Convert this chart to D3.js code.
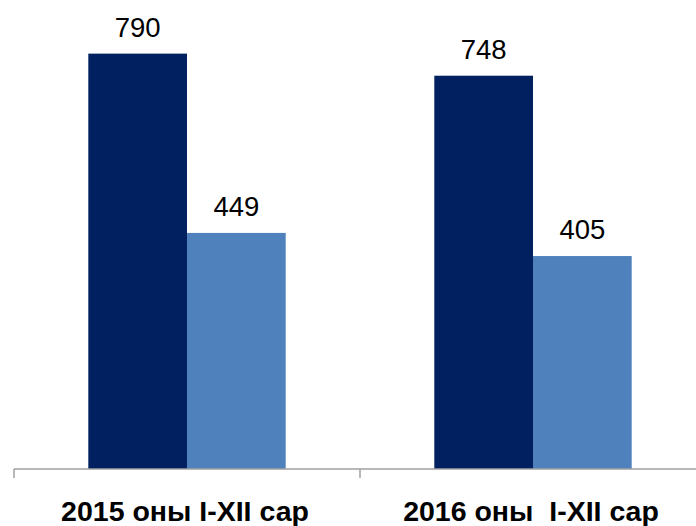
<!DOCTYPE html>
<html>
<head>
<meta charset="utf-8">
<script src="https://cdn.jsdelivr.net/npm/d3@7"></script>
<style>
  body { margin: 0; background: #fff; }
  #viz { width: 696px; height: 526px; }
</style>
</head>
<body>
<div id="viz"></div>
<script>
//Datos
const categories = ['2015 оны I-XII сар', '2016 оны  I-XII сар'];
const seriesNames = ['a', 'b'];
const seriesA = [790, 748];
const seriesB = [449, 405];

//Colores fijos
const COLOR_DARK = '#002060',
COLOR_LIGHT = '#4F81BD',
COLOR_AXIS = '#A0A0A0';

let width = 696, height = 526;
let baseY = 469;

let svg = d3.select('#viz')
    .append('svg')
        .attr('width', width)
        .attr('height', height);

let data = categories.map(function(c, i) {
    return { cat: c, values: [seriesA[i], seriesB[i]] };
});

// X axis
let x = d3.scaleBand()
    .domain(categories)
    .range([14, 706])
    .padding(0);

let x1 = d3.scaleBand()
    .domain(seriesNames)
    .range([74.3, 346 - 74.3])
    .padding(0);

// Y
let y = d3.scaleLinear()
    .domain([0, 892])
    .range([baseY, 0]);

let colors = [COLOR_DARK, COLOR_LIGHT];

let groups = svg.selectAll('.grupo')
    .data(data)
    .enter()
    .append('g')
    .attr('class', 'grupo')
    .attr('transform', function(d) { return 'translate(' + x(d.cat) + ',0)'; });

groups.selectAll('rect')
    .data(function(d) { return d.values.map(function(v, i) { return { k: seriesNames[i], v: v, i: i }; }); })
    .enter()
    .append('rect')
    .attr('x', function(d) { return x1(d.k); })
    .attr('width', x1.bandwidth())
    .attr('y', function(d) { return y(d.v); })
    .attr('height', function(d) { return baseY - y(d.v); })
    .attr('fill', function(d) { return colors[d.i]; });

groups.selectAll('.valor')
    .data(function(d) { return d.values.map(function(v, i) { return { k: seriesNames[i], v: v }; }); })
    .enter()
    .append('text')
    .attr('class', 'valor')
    .attr('x', function(d) { return x1(d.k) + x1.bandwidth() / 2; })
    .attr('y', function(d) { return y(d.v) - 17; })
    .attr('text-anchor', 'middle')
    .style('font-family', 'Liberation Sans, Arial, sans-serif')
    .style('font-size', '27.5px')
    .style('fill', '#000')
    .text(function(d) { return d.v; });

// Eje
let axis = svg.append('g')
    .attr('transform', 'translate(0,' + baseY + ')')
    .call(d3.axisBottom(x).tickSize(0).tickPadding(0).tickFormat(''));
axis.select('.domain').remove();

axis.append('line')
    .attr('x1', 14).attr('x2', 706)
    .attr('y1', 0).attr('y2', 0)
    .attr('stroke', COLOR_AXIS)
    .attr('stroke-width', 1.5);

axis.selectAll('.limite')
    .data(categories)
    .enter()
    .append('line')
    .attr('class', 'limite')
    .attr('x1', function(d) { return x(d); })
    .attr('x2', function(d) { return x(d); })
    .attr('y1', 0).attr('y2', 9)
    .attr('stroke', COLOR_AXIS)
    .attr('stroke-width', 1.5);

svg.selectAll('.cat')
    .data(categories)
    .enter()
    .append('text')
    .attr('class', 'cat')
    .attr('x', function(d) { return x(d) + x.bandwidth() / 2 - 2; })
    .attr('y', 520.5)
    .attr('text-anchor', 'middle')
    .style('white-space', 'pre')
    .style('font-family', 'Liberation Sans, Arial, sans-serif')
    .style('font-weight', 'bold')
    .style('font-size', '28.5px')
    .style('fill', '#000')
    .text(function(d) { return d; });
</script>
</body>
</html>
